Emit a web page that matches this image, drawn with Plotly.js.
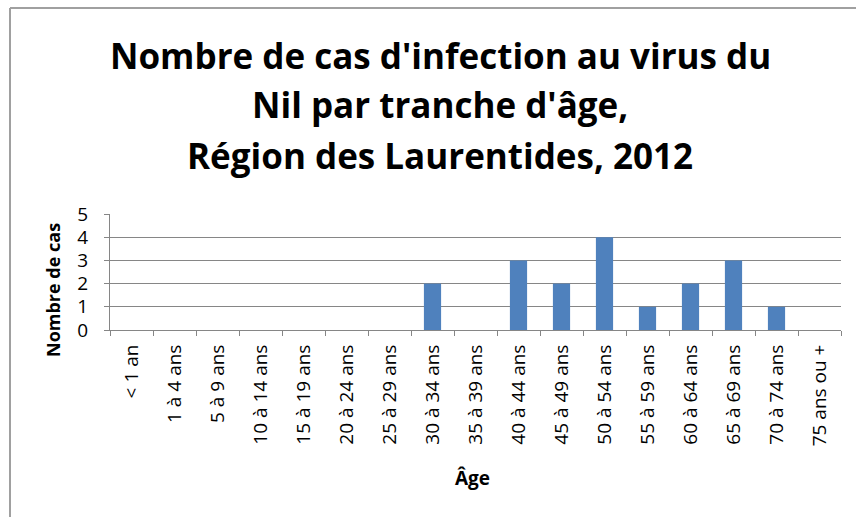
<!DOCTYPE html>
<html><head><meta charset="utf-8">
<script src="https://cdn.plot.ly/plotly-3.0.1.min.js"></script>
<style>html,body{margin:0;padding:0;background:#fff}#c{width:856px;height:517px}</style>
</head><body><div id="c"></div>
<script>
const categories = ["< 1 an","1 à 4 ans","5 à 9 ans","10 à 14 ans","15 à 19 ans","20 à 24 ans","25 à 29 ans","30 à 34 ans","35 à 39 ans","40 à 44 ans","45 à 49 ans","50 à 54 ans","55 à 59 ans","60 à 64 ans","65 à 69 ans","70 à 74 ans","75 ans ou +"];
const cases = [0,0,0,0,0,0,0,2,0,3,2,4,1,2,3,1,0];
const titleLines = ["Nombre de cas d'infection au virus du","Nil par tranche d'âge,","Région des Laurentides, 2012"];
const yTicks = [0,1,2,3,4,5];

const W=856,H=517,L=110,R=15,T=214,B=187;
const pw=W-L-R, ph=H-T-B;
const px=x=>(x-L)/pw, py=y=>(H-B-y)/ph;

const font="'Open Sans', 'DejaVu Sans', sans-serif";
const titleY=[55,104,155];
const annotations = titleLines.map((t,i)=>({
  text:"<b>"+t+"</b>", xref:"paper", yref:"paper", x:px(440), y:py(titleY[i]),
  xanchor:"center", yanchor:"middle", showarrow:false,
  font:{family:font,size:35,color:"#000"}
}));
annotations.push({text:"<b>Nombre de cas</b>",xref:"paper",yref:"paper",x:px(53),y:py(290),
  xanchor:"center",yanchor:"middle",textangle:-90,showarrow:false,font:{family:font,size:18,color:"#000"}});
annotations.push({text:"<b>Âge</b>",xref:"paper",yref:"paper",x:px(472),y:py(478),
  xanchor:"center",yanchor:"middle",showarrow:false,font:{family:font,size:19,color:"#000"}});

Plotly.newPlot("c",[{
  type:"bar", x:categories, y:cases, marker:{color:"#4F81BD"}, hoverinfo:"x+y"
}],{
  width:W,height:H,margin:{l:L,r:R,t:T,b:B,pad:0},
  paper_bgcolor:"#fff",plot_bgcolor:"#fff",showlegend:false,bargap:0.6,
  xaxis:{type:"category",tickson:"boundaries",ticks:"outside",ticklen:5,tickcolor:"#868686",
    showline:true,linecolor:"#868686",linewidth:1,showgrid:false,tickangle:-90,ticklabelstandoff:6,
    tickfont:{family:font,size:19,color:"#000"},automargin:false},
  yaxis:{range:[0,5],tickvals:yTicks,ticks:"outside",ticklen:5,tickcolor:"#868686",ticklabelstandoff:12,
    showline:true,linecolor:"#868686",linewidth:1,showgrid:true,gridcolor:"#868686",gridwidth:1,
    zeroline:false,tickfont:{family:font,size:19,color:"#000"},automargin:false},
  annotations:annotations,
  shapes:[
    {type:"line",xref:"paper",yref:"paper",x0:px(10),x1:px(W+5),y0:py(8),y1:py(8),line:{color:"#a0a0a0",width:2}},
    {type:"line",xref:"paper",yref:"paper",x0:px(10),x1:px(10),y0:py(8),y1:py(H+5),line:{color:"#a0a0a0",width:2}}
  ]
},{displayModeBar:false,staticPlot:true});
</script></body></html>
